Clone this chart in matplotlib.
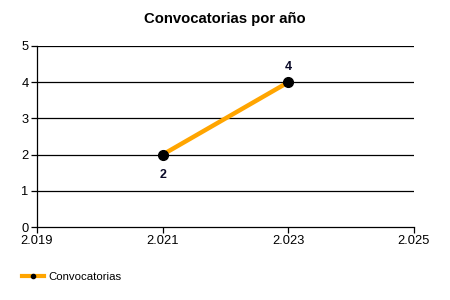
import matplotlib
matplotlib.use("Agg")
import matplotlib.pyplot as plt

years = [2021, 2023]
values = [2, 4]
xticks = [2019, 2021, 2023, 2025]
xtick_labels = ["2.019", "2.021", "2.023", "2.025"]
yticks = [0, 1, 2, 3, 4, 5]
series_name = "Convocatorias"
title = "Convocatorias por año"

plt.rcParams['font.family'] = ['Liberation Sans', 'DejaVu Sans']

fig = plt.figure(figsize=(4.5, 3.0), dpi=100)
ax = fig.add_axes([37/450, 1-227/300, (414-37)/450, (227-46)/300])

for y in yticks[1:]:
    ax.axhline(y, color='black', lw=0.9, zorder=1)

line, = ax.plot(years, values, color='#FFA500', lw=3.2, marker='o', markersize=7,
                markerfacecolor='black', markeredgecolor='black', zorder=3, label=series_name)

ax.annotate(str(values[0]), (years[0], values[0]), xytext=(0, -15), textcoords='offset points',
            ha='center', va='center', fontsize=9, fontweight='bold', color='#0A0A28')
ax.annotate(str(values[1]), (years[1], values[1]), xytext=(0, 11), textcoords='offset points',
            ha='center', va='center', fontsize=9, fontweight='bold', color='#0A0A28')

ax.set_xlim(2019, 2025)
ax.set_ylim(0, 5)
ax.set_xticks(xticks)
ax.set_xticklabels(xtick_labels)
ax.set_yticks(yticks)
ax.tick_params(axis='both', labelsize=9.3, length=4, width=0.9, color='black', pad=2)
for s in ['top', 'right']:
    ax.spines[s].set_visible(False)
ax.spines['left'].set_linewidth(0.9)
ax.spines['bottom'].set_linewidth(0.9)

fig.text(0.5, 1-19/300, title, ha='center', va='center', fontsize=10.7, fontweight='bold')

from matplotlib.lines import Line2D
h = Line2D([0], [0], color='#FFA500', lw=3, marker='o', markersize=3,
           markerfacecolor='black', markeredgecolor='black')
fig.legend([h], [series_name], loc='center left', bbox_to_anchor=(22/450, 1-277/300),
           frameon=False, fontsize=8.2, handlelength=1.9, handletextpad=0.45, borderaxespad=0,
           borderpad=0)

fig.savefig("out.png", dpi=100)
